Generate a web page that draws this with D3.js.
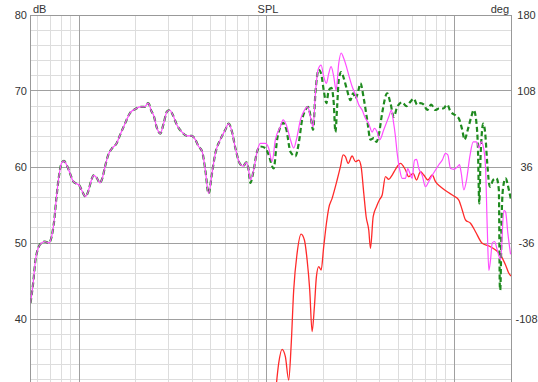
<!DOCTYPE html>
<html>
<head>
<meta charset="utf-8">
<script src="https://cdn.jsdelivr.net/npm/d3@7"></script>
<style>
  html, body { margin: 0; padding: 0; background: #fff; }
  svg { display: block; font-family: "Liberation Sans", Arial, sans-serif; }
</style>
</head>
<body>
<div id="chart"></div>
<script>
// shared low-frequency part of both SPL traces (Hz, dB)
var freqLow = [55, 56.8, 58.5, 60.4, 62.9, 65.6, 68.9, 71.2, 73.6, 75.7, 77.9, 80.5, 82.9, 85.6, 89.2, 92.9, 96.7, 100, 103.7, 108,
  111.7, 115.5, 119.2, 123.7, 129, 132.7, 137.1, 142.8, 150, 158.1, 164.9, 175.3, 186.4, 198.2, 210.7, 222.2, 233.3, 243, 249.1, 259.7,
  270.4, 281.6, 293.6, 303.1, 316, 332, 353, 375.3, 399, 415.6, 432.8, 451.2, 469.9, 489.3, 510.3, 531.4, 564.9, 600.6, 625.7, 652.3,
  679.2, 716, 746.6, 777.6, 799.7];
var splLow = [42.1, 44.7, 47.8, 49.3, 50.0, 50.2, 50.0, 50.8, 53.0, 56.1, 58.7, 60.5, 60.8, 60.3, 59.2, 58.1, 57.8, 57.6, 56.8, 56.1,
  56.8, 58.1, 58.9, 58.6, 57.9, 58.5, 60.0, 61.6, 62.5, 63.1, 64.2, 65.7, 67.1, 67.6, 67.9, 67.9, 68.4, 67.3, 66.8, 65.1,
  64.4, 65.7, 67.3, 67.5, 66.8, 65.5, 64.6, 64.1, 64.1, 63.6, 62.7, 62.1, 59.6, 56.5, 59.2, 61.8, 63.6, 64.9, 65.7, 64.6,
  62.5, 60.5, 60.1, 60.6, 59.6];

// magenta trace above 800 Hz
var freqA = [816.6, 850.4, 886.6, 923.3, 981.7, 1022, 1066, 1110, 1180, 1220, 1271, 1335, 1390, 1449, 1509, 1572, 1651, 1706, 1764, 1814,
  1875, 1946, 2009, 2077, 2136, 2200, 2272, 2339, 2415, 2487, 2568, 2655, 2731, 2847, 2965, 3088, 3219, 3352, 3491, 3640,
  3744, 3870, 3996, 4197, 4462, 4613, 4711, 4845, 4948, 5109, 5262, 5480, 5636, 5777, 5949, 6120, 6272, 6452, 6726, 7004,
  7294, 7606, 7920, 8247, 8600, 8954, 9210, 9521, 9915, 10340, 10630, 10860, 11210, 11590, 12070, 12580, 13100, 13480, 13880, 14230,
  14630, 14940, 15240, 15560, 15890, 16340, 16890, 17600, 18320, 18710, 19240, 19890];
var splA = [58.3, 59.6, 62.0, 63.1, 63.1, 62.5, 60.7, 63.6, 65.3, 66.2, 65.5, 63.6, 62.5, 64.0, 66.2, 67.3, 67.9, 66.6, 65.3, 69.7,
  72.8, 73.4, 71.9, 71.0, 72.3, 73.2, 71.9, 70.1, 73.6, 75.0, 74.3, 73.2, 72.1, 70.6, 69.5, 68.2, 67.5, 66.4, 65.7, 64.6,
  65.1, 64.6, 63.6, 64.9, 66.6, 67.5, 66.2, 64.0, 61.8, 59.6, 58.5, 58.5, 59.8, 59.2, 58.5, 60.9, 61.0, 59.8, 58.9, 57.4,
  58.1, 58.9, 59.6, 60.3, 60.9, 61.8, 61.6, 59.8, 59.7, 60.0, 60.3, 59.2, 57.0, 58.3, 61.4, 63.3, 63.3, 62.5, 63.3, 62.7,
  60.0, 52.1, 46.4, 47.8, 50.0, 50.2, 49.1, 47.8, 54.3, 54.1, 51.3, 48.5];

// green dashed trace above 800 Hz
var freqB = [816.6, 850.4, 886.6, 923.3, 981.7, 1022, 1087, 1134, 1180, 1220, 1271, 1335, 1419, 1478, 1541, 1605, 1659, 1706, 1764, 1814,
  1889, 1946, 2009, 2077, 2136, 2208, 2272, 2319, 2368, 2415, 2487, 2568, 2677, 2788, 2882, 2965, 3050, 3152, 3284, 3424,
  3565, 3712, 3837, 3948, 4116, 4376, 4557, 4746, 4948, 5262, 5546, 5824, 6065, 6324, 6586, 6859, 7151, 7511, 7920, 8247,
  8705, 9145, 9521, 10120, 10540, 10990, 11310, 11770, 12280, 12670, 13100, 13320, 13550, 13770, 14230, 14580, 14940, 15430, 16090, 16750,
  17230, 17440, 17530, 17870, 18180, 18710, 19480, 20000];
var splB = [57.9, 59.6, 62.0, 62.7, 62.5, 61.6, 59.8, 63.6, 65.3, 65.8, 64.9, 62.0, 61.4, 63.1, 66.2, 67.5, 67.9, 66.8, 64.9, 69.7,
  72.8, 72.3, 70.1, 68.4, 70.1, 70.4, 68.4, 64.6, 67.9, 71.4, 72.5, 71.7, 70.1, 68.8, 69.7, 69.0, 69.7, 71.0, 69.0, 66.2,
  63.6, 63.8, 63.3, 64.2, 67.1, 69.7, 68.4, 66.6, 67.9, 68.5, 68.0, 68.6, 69.0, 68.2, 68.4, 68.2, 67.5, 68.2, 67.5, 67.7,
  67.7, 68.2, 67.3, 66.8, 66.4, 64.9, 63.6, 64.9, 66.6, 67.5, 65.7, 62.7, 55.2, 61.4, 65.7, 64.4, 60.5, 57.4, 58.3, 58.5,
  57.0, 44.3, 43.8, 54.3, 57.4, 58.5, 57.0, 55.7];

// red trace, right axis (deg)
var freqPh = [1110, 1156, 1205, 1255, 1307, 1346, 1390, 1449, 1522, 1585, 1639, 1692, 1742, 1792, 1837, 1889, 1946, 2009, 2077, 2136,
  2227, 2368, 2466, 2549, 2622, 2711, 2847, 2965, 3088, 3179, 3284, 3381, 3491, 3565, 3686, 3837, 3996, 4116, 4285, 4462,
  4654, 4845, 5152, 5480, 5704, 6021, 6272, 6586, 6859, 7204, 7606, 7920, 8420, 9145, 9915, 10540, 10990, 11450, 12170, 12940,
  14050, 15240, 16550, 17600, 18710, 19480, 20000];
var phase = [-180, -150, -136.7, -143.7, -165.8, -134.2, -80.5, -45.8, -27.5, -33.2, -52.1, -80.5, -120, -96.3, -67.9, -58.4, -61.6, -39.5, -17.3, -3.1,
  6.3, 23.7, 36.3, 47.4, 45.8, 39.5, 46.4, 41, 42.6, 36.3, 11.1, -11.1, -23.7, -41, -11.1, -1.6, 5.4, 9.5, 26.8, 24.3,
  28.4, 33.8, 39.5, 33.2, 26.8, 30, 23.7, 31.5, 28.4, 23.7, 28.4, 22.1, 17.3, 12.6, 8.5, 4.7, -4.7, -14.2, -17.3, -25.3,
  -36.3, -38.8, -42.6, -47.4, -56.8, -64.7, -67.3];

var dbTicks = [80, 70, 60, 50, 40];
var degTicks = [180, 108, 36, -36, -108];

var W = 538, H = 382;
var plotL = 30.5, plotR = 511, plotT = 15, plotB = 395;

var x = d3.scaleLog().domain([55, 20000]).range([plotL, plotR]);
var y = d3.scaleLinear().domain([80, 30]).range([plotT, plotB]);
var yDeg = d3.scaleLinear().domain([180, -180]).range([plotT, plotB]);

var svg = d3.select('#chart').append('svg')
    .attr('width', W)
    .attr('height', H);

svg.append('rect').attr('width', W).attr('height', H).attr('fill', '#fff');

svg.append('clipPath').attr('id', 'plot')
  .append('rect')
    .attr('x', plotL).attr('y', plotT)
    .attr('width', plotR - plotL).attr('height', plotB - plotT);

var grid = svg.append('g');

// vertical grid, every 1-9 of each decade
var minorX = [], majorX = [];
[10, 100, 1000, 10000].forEach(function(dec) {
  for (var k = 1; k < 10; k++) {
    var f = dec * k;
    if (f <= 55 || f > 20000) continue;
    (k === 1 ? majorX : minorX).push(f);
  }
});
var snap = function(v) { return Math.round(v - 0.5) + 0.5; };

grid.selectAll('line.vmin').data(minorX).enter().append('line')
    .attr('x1', function(d) { return snap(x(d)); })
    .attr('x2', function(d) { return snap(x(d)); })
    .attr('y1', plotT).attr('y2', plotB)
    .attr('stroke', '#dddddd');

var minorY = d3.range(32, 80, 2).filter(function(d) { return d % 10 !== 0; });
grid.selectAll('line.hmin').data(minorY).enter().append('line')
    .attr('x1', plotL).attr('x2', plotR)
    .attr('y1', function(d) { return snap(y(d)); })
    .attr('y2', function(d) { return snap(y(d)); })
    .attr('stroke', '#dddddd');

grid.selectAll('line.vmaj').data(majorX).enter().append('line')
    .attr('x1', function(d) { return snap(x(d)); })
    .attr('x2', function(d) { return snap(x(d)); })
    .attr('y1', plotT).attr('y2', plotB)
    .attr('stroke', '#a0a0a0');

grid.selectAll('line.hmaj').data([70, 60, 50, 40]).enter().append('line')
    .attr('x1', plotL).attr('x2', plotR)
    .attr('y1', function(d) { return snap(y(d)); })
    .attr('y2', function(d) { return snap(y(d)); })
    .attr('stroke', '#a0a0a0');

// plot frame
svg.append('rect')
    .attr('x', snap(plotL)).attr('y', snap(plotT))
    .attr('width', Math.round(plotR - plotL)).attr('height', plotB - plotT)
    .attr('fill', 'none')
    .attr('stroke', '#999999');

// traces
var lineDb = d3.line()
    .x(function(d) { return x(d[0]); })
    .y(function(d) { return y(d[1]); })
    .curve(d3.curveMonotoneX);
var lineDeg = d3.line()
    .x(function(d) { return x(d[0]); })
    .y(function(d) { return yDeg(d[1]); })
    .curve(d3.curveMonotoneX);

var traceA = d3.zip(freqLow.concat(freqA), splLow.concat(splA));
var traceB = d3.zip(freqLow.concat(freqB), splLow.concat(splB));
var tracePh = d3.zip(freqPh, phase);

var curves = svg.append('g').attr('clip-path', 'url(#plot)');

curves.append('path')
    .attr('d', lineDeg(tracePh))
    .attr('fill', 'none')
    .attr('stroke', '#ff2a2a')
    .attr('stroke-width', 1.3);

curves.append('path')
    .attr('d', lineDb(traceB))
    .attr('fill', 'none')
    .attr('stroke', '#1f8a1f')
    .attr('stroke-width', 2.2)
    .attr('stroke-dasharray', '5,3');

// magenta sits on top, the green dashes show round it where they coincide
curves.append('path')
    .attr('d', lineDb(traceA))
    .attr('fill', 'none')
    .attr('stroke', '#ff4cff')
    .attr('stroke-width', 1.2);

// labels
var txt = svg.append('g').attr('font-size', 11).attr('fill', '#333');

txt.selectAll('text.db').data(dbTicks).enter().append('text')
    .attr('x', 27)
    .attr('y', function(d) { return y(d) + 4; })
    .attr('text-anchor', 'end')
    .text(function(d) { return d; });

txt.selectAll('text.deg').data(degTicks).enter().append('text')
    .attr('x', 526.5)
    .attr('y', function(d) { return yDeg(d) + 4; })
    .attr('text-anchor', 'middle')
    .text(function(d) { return d; });

txt.append('text').attr('x', 33).attr('y', 12.5).text('dB');
txt.append('text').attr('x', 268).attr('y', 12.5).attr('text-anchor', 'middle').text('SPL');
txt.append('text').attr('x', 509).attr('y', 12.5).attr('text-anchor', 'end').text('deg');
</script>
</body>
</html>
